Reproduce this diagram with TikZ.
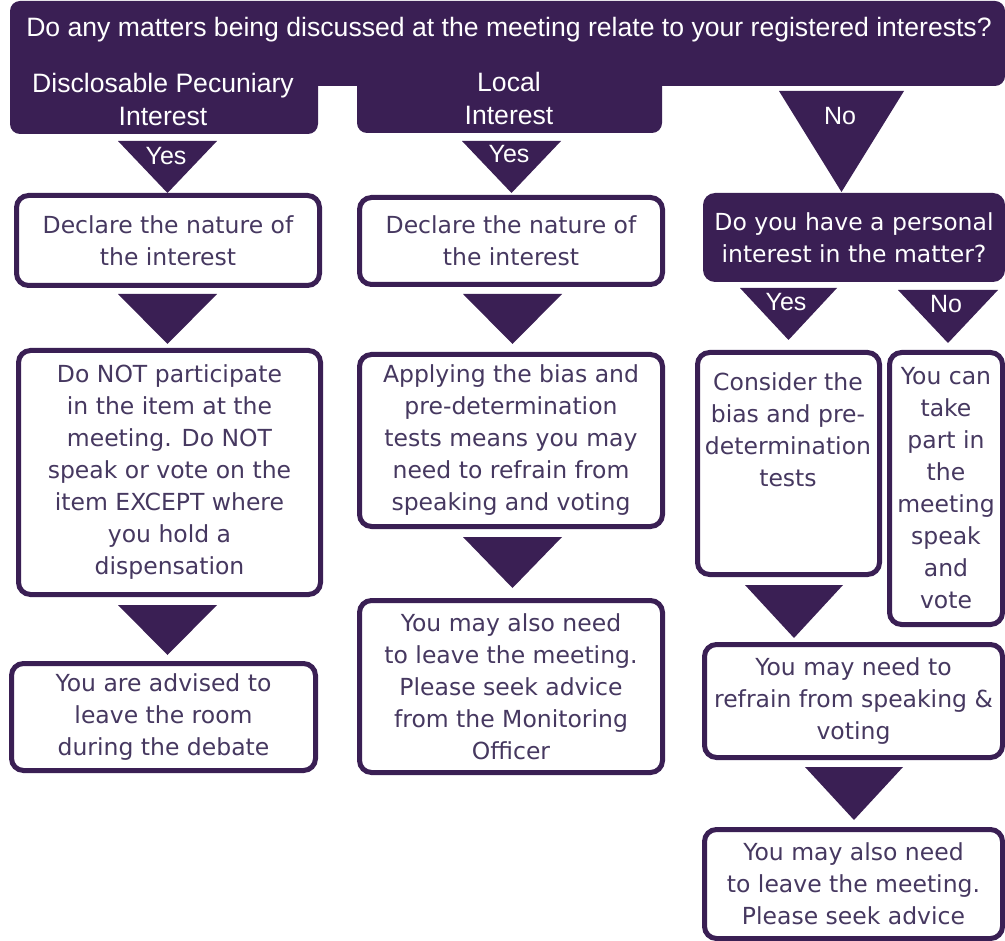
\documentclass[tikz,border=0pt]{standalone}
\usepackage{fontspec}
\setmainfont{DejaVu Sans}
\newfontfamily\arialfont{Liberation Sans}
\definecolor{pur}{RGB}{58,31,84}
\definecolor{txt}{RGB}{70,56,96}
\newcommand\tri[4]{\fill[pur] (#1,#2) -- (#3,#2) -- ({(#1+#3)/2},#4) -- cycle;}
\begin{document}
\begin{tikzpicture}[x=1pt,y=-1pt,
  box/.style={draw=pur, line width=5pt, fill=white, rounded corners=12pt, inner sep=0pt, align=center, text=txt, font=\fontsize{23.5}{32}\selectfont},
  btxt/.style={inner sep=0pt, align=center, text=txt, font=\fontsize{23.5}{32}\selectfont},
  hbox/.style={fill=pur, rounded corners=12pt, inner sep=0pt, align=center, text=white, font=\fontsize{23.5}{32}\selectfont},
  htxt/.style={inner sep=0pt, align=center, text=white, font=\arialfont\fontsize{26.6}{33}\selectfont},
  lbl/.style={inner sep=0pt, text=white, font=\arialfont\fontsize{25}{30}\selectfont}]
\useasboundingbox (0,0) rectangle (1005,941);
% header
\fill[pur, rounded corners=10pt] (10,1) rectangle (1005,86);
\fill[pur, rounded corners=10pt] (10,40) rectangle (318,134);
\fill[pur, rounded corners=10pt] (357,40) rectangle (662,133);
\node[htxt] (q) at (509,30) {Do any matters being discussed at the meeting relate to your registered interests?};
\node[htxt] (dpi) at (163,99) {Disclosable Pecuniary\\Interest};
\node[htxt] (li) at (509,98) {Local\\Interest};
% triangles
\tri{118}{141}{217}{193}
\tri{462}{141}{561}{193}
\tri{779}{91}{904}{192}
\tri{118}{294}{217}{344}
\tri{118}{605}{217}{655}
\tri{463}{294}{562}{344}
\tri{463}{537}{562}{588}
\tri{740}{288}{837}{340}
\tri{898}{290}{998}{343}
\tri{745}{585}{843}{638}
\tri{805}{767}{903}{820}
\node[lbl] (y1) at (166,156) {Yes};
\node[lbl] (y2) at (509,154) {Yes};
\node[lbl] (n0) at (840,116) {No};
\node[lbl] (y3) at (786,302) {Yes};
\node[lbl] (n3) at (946,304) {No};
% column 1
\node[box, minimum width=303pt, minimum height=90pt] (d1) at (168,240.5) {Declare the nature of\\the interest};
\node[box, minimum width=302pt, minimum height=244pt] (n1) at (169.5,472.5) {Do NOT participate\\in the item at the\\meeting. Do NOT\\speak or vote on the\\item EXCEPT where\\you hold a\\dispensation};
\node[box, minimum width=304pt, minimum height=107pt] (a1) at (163.5,717) {You are advised to\\leave the room\\during the debate};
% column 2
\node[box, minimum width=303pt, minimum height=87pt] (d2) at (511,241) {Declare the nature of\\the interest};
\node[box, minimum width=303pt, minimum height=172pt] (b2) at (511,440.5) {Applying the bias and\\pre-determination\\tests means you may\\need to refrain from\\speaking and voting};
\node[box, minimum width=303pt, minimum height=172pt] (m2) at (511,686.5) {You may also need\\to leave the meeting.\\Please seek advice\\from the Monitoring\\Officer};
% column 3
\node[hbox, minimum width=302pt, minimum height=89pt] (p3) at (854,237.5) {Do you have a personal\\interest in the matter?};
\node[box, minimum width=182pt, minimum height=222pt] (c3) at (788.5,463.5) {};
\node[btxt] (c3t) at (788,430) {Consider the\\bias and pre-\\determination\\tests};
\node[box, minimum width=113pt, minimum height=272pt] (y3b) at (946,488.5) {You can\\take\\part in\\the\\meeting\\speak\\and\\vote};
\node[box, minimum width=298pt, minimum height=113pt] (r3) at (853.5,701) {You may need to\\refrain from speaking \&\\voting};
\node[box, minimum width=298pt, minimum height=109pt] (l3) at (853.5,884) {You may also need\\to leave the meeting.\\Please seek advice};
\end{tikzpicture}
\end{document}
